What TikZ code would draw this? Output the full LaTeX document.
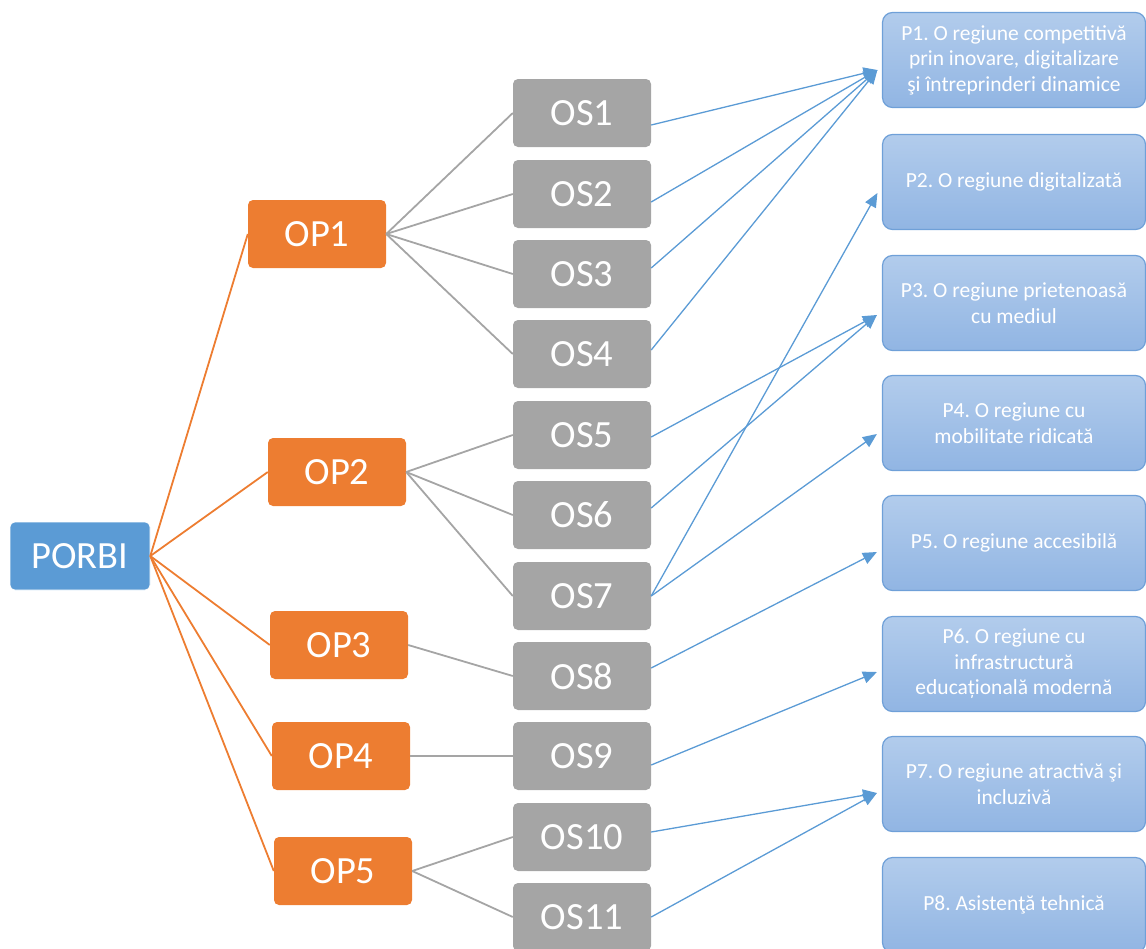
\documentclass[tikz,border=0pt]{standalone}
\usepackage{fontspec}
\setmainfont{Carlito}
\usetikzlibrary{arrows.meta}
\definecolor{porbiblue}{HTML}{5B9BD5}
\definecolor{oporange}{HTML}{ED7D31}
\definecolor{osgray}{HTML}{A5A5A5}
\definecolor{ptop}{HTML}{B2CCEC}
\definecolor{pbot}{HTML}{91B5E3}
\definecolor{pborder}{HTML}{6FA0D8}
\definecolor{arrowblue}{HTML}{5B9BD5}
\frenchspacing
\tikzset{
  box/.style={rounded corners=5pt, minimum width=138pt, minimum height=68pt, text=white, font=\fontsize{38.5}{42}\selectfont, inner sep=0pt},
  porbibox/.style={box, fill=porbiblue, draw=white, line width=0.6pt, minimum width=140pt},
  opbox/.style={box, fill=oporange},
  osbox/.style={box, fill=osgray},
  pbox/.style={rounded corners=10pt, minimum width=263pt, minimum height=95pt, top color=ptop, bottom color=pbot, draw=pborder, line width=1.2pt, text=white, align=center, inner sep=0pt, font=\fontsize{21.5}{25.5}\selectfont},
  orline/.style={draw=oporange, line width=1.8pt},
  grline/.style={draw=osgray, line width=1.8pt},
  blarrow/.style={draw=arrowblue, line width=1.3pt, -{Triangle[length=14pt,width=12pt]}}
}
\begin{document}
\begin{tikzpicture}[x=1pt,y=-1pt]
\useasboundingbox (0,0) rectangle (1146,948);
% root
\node[porbibox] (PORBI) at (80,556) {PORBI};
% OP
\node[opbox] (OP1) at (317,234) {OP1};
\node[opbox] (OP2) at (337,472) {OP2};
\node[opbox] (OP3) at (339,645) {OP3};
\node[opbox] (OP4) at (341,756) {OP4};
\node[opbox] (OP5) at (343,871) {OP5};
% OS
\node[osbox] (OS1) at (582,113) {OS1};
\node[osbox] (OS2) at (582,194) {OS2};
\node[osbox] (OS3) at (582,274) {OS3};
\node[osbox] (OS4) at (582,354) {OS4};
\node[osbox] (OS5) at (582,435) {OS5};
\node[osbox] (OS6) at (582,515) {OS6};
\node[osbox] (OS7) at (582,596) {OS7};
\node[osbox] (OS8) at (582,676) {OS8};
\node[osbox] (OS9) at (582,756) {OS9};
\node[osbox] (OS10) at (582,837) {OS10};
\node[osbox] (OS11) at (582,917) {OS11};
% P
\node[pbox] (P1) at (1014,60) {P1. O regiune competitivă\\prin inovare, digitalizare\\şi întreprinderi dinamice};
\node[pbox] (P2) at (1014,182) {P2. O regiune digitalizată};
\node[pbox] (P3) at (1014,303) {P3. O regiune prietenoasă\\cu mediul};
\node[pbox] (P4) at (1014,423) {P4. O regiune cu\\mobilitate ridicată};
\node[pbox] (P5) at (1014,543) {P5. O regiune accesibilă};
\node[pbox] (P6) at (1014,664) {P6. O regiune cu\\infrastructură\\educațională modernă};
\node[pbox] (P7) at (1014,784) {P7. O regiune atractivă şi\\incluzivă};
\node[pbox] (P8) at (1014,905) {P8. Asistenţă tehnică};
% orange connectors
\foreach \o in {OP1,OP2,OP3,OP4,OP5}
  \draw[orline] (PORBI.east) -- (\o.west);
% gray connectors
\foreach \s in {OS1,OS2,OS3,OS4}
  \draw[grline] (OP1.east) -- (\s.west);
\foreach \s in {OS5,OS6,OS7}
  \draw[grline] (OP2.east) -- (\s.west);
\draw[grline] (OP3.east) -- (OS8.west);
\draw[grline] (OP4.east) -- (OS9.west);
\foreach \s in {OS10,OS11}
  \draw[grline] (OP5.east) -- (\s.west);
% blue arrows
\draw[blarrow] ([yshift=-12pt]OS1.east) -- ([xshift=-4.5pt,yshift=-10pt]P1.west);
\draw[blarrow] ([yshift=-8pt]OS2.east) -- ([xshift=-4.5pt,yshift=-10pt]P1.west);
\draw[blarrow] ([yshift=6pt]OS3.east) -- ([xshift=-4.5pt,yshift=-10pt]P1.west);
\draw[blarrow] ([yshift=4pt]OS4.east) -- ([xshift=-4.5pt,yshift=-10pt]P1.west);
\draw[blarrow] ([yshift=-2pt]OS5.east) -- ([xshift=-5pt,yshift=-12pt]P3.west);
\draw[blarrow] ([yshift=7pt]OS6.east) -- ([xshift=-5pt,yshift=-12pt]P3.west);
\draw[blarrow] (OS7.east) -- ([xshift=-4.5pt,yshift=-11pt]P2.west);
\draw[blarrow] (OS7.east) -- ([xshift=-5pt,yshift=-11pt]P4.west);
\draw[blarrow] ([yshift=8pt]OS8.east) -- ([xshift=-5pt,yshift=-9pt]P5.west);
\draw[blarrow] ([yshift=-9pt]OS9.east) -- ([xshift=-5pt,yshift=-8pt]P6.west);
\draw[blarrow] ([yshift=5pt]OS10.east) -- ([xshift=-5pt,yshift=-9pt]P7.west);
\draw[blarrow] (OS11.east) -- ([xshift=-5pt,yshift=-9pt]P7.west);
\end{tikzpicture}
\end{document}
